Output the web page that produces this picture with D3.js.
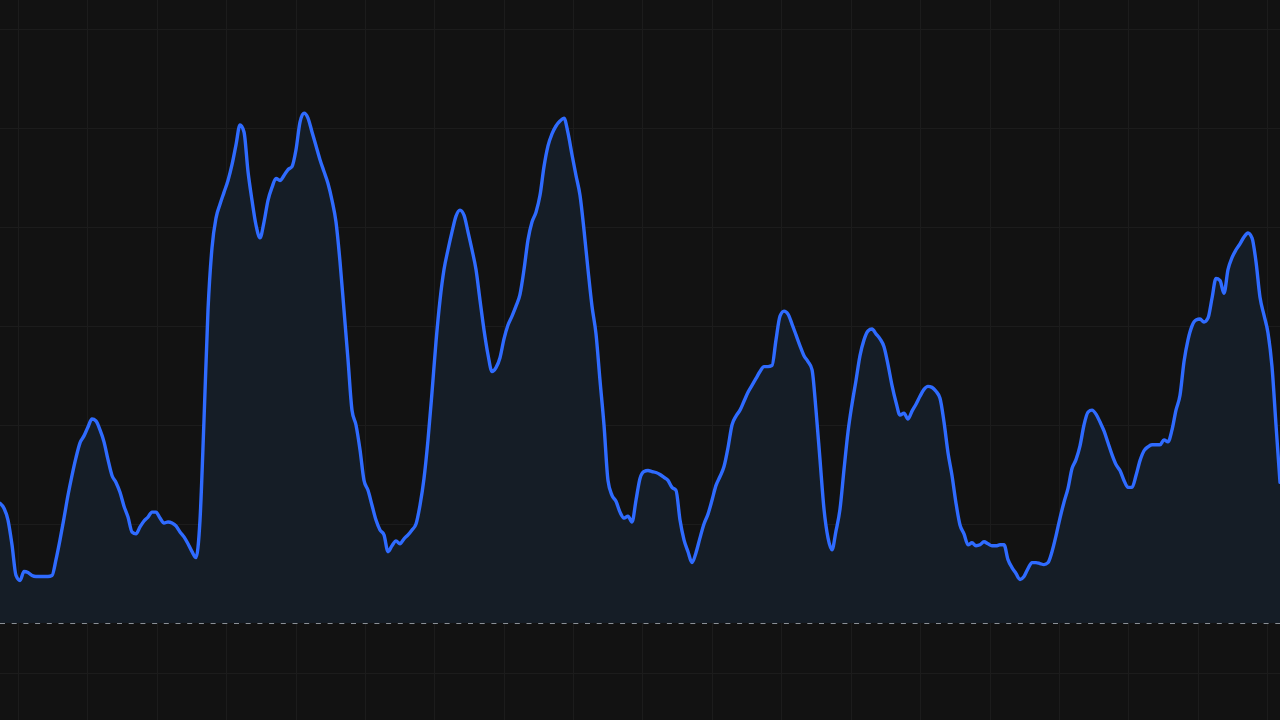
<!DOCTYPE html>
<html>
<head>
<meta charset="utf-8">
<script src="https://cdn.jsdelivr.net/npm/d3@7"></script>
<style>
  html, body { margin: 0; padding: 0; background: #121212; overflow: hidden; }
  svg { display: block; }
</style>
</head>
<body>
<svg id="chart" width="1280" height="720"></svg>
<script>
// Series values (one per sample, evenly spaced)
const values = [
  121,116,104,79,48,43,52,51,48,47,47,47,47,48,64,84,106,129,149,167,
  182,189,198,206,204,195,183,165,149,142,132,118,107,92,90,97,103,107,112,112,
  106,101,102,101,98,92,87,80,72,66,104,205,316,379,409,423,435,447,463,483,
  503,496,456,427,402,389,405,427,440,449,447,452,458,461,478,506,515,510,496,482,
  468,456,444,427,405,365,316,266,215,200,175,144,134,119,104,94,89,72,78,83,
  80,85,89,94,100,119,146,185,233,284,326,357,377,395,411,417,412,395,377,357,
  326,296,271,254,258,268,287,301,310,320,332,357,387,405,415,432,461,482,494,502,
  507,510,495,473,452,432,397,357,320,292,245,200,144,129,123,112,106,108,102,124,
  146,153,154,153,152,150,147,144,137,134,104,84,72,61,71,86,100,110,124,139,
  148,158,177,200,209,215,224,233,240,247,254,259,259,260,286,310,315,312,302,291,
  280,270,264,256,215,165,115,86,74,93,115,155,193,221,245,270,286,295,297,292,
  287,279,261,240,223,210,212,206,214,221,229,236,239,238,234,227,203,172,149,121,
  99,90,79,81,78,79,82,80,78,78,79,79,64,56,50,44,47,55,61,61,
  60,59,61,72,88,106,122,136,156,165,179,200,213,215,211,203,194,182,170,160,
  154,144,137,137,149,164,174,178,180,180,180,185,183,195,215,230,264,286,300,306,
  307,304,308,328,348,346,333,357,369,377,383,390,394,389,365,329,311,293,259,200,
  142
];
// Horizontal grid levels (value units)
const yTicks = [600, 500, 400, 300, 200, 100, -50];
// Vertical grid positions (sample index)
const xTicks = [4.5, 21.8, 39.2, 56.5, 73.9, 91.2, 108.6, 125.9, 143.3, 160.6, 178, 195.3, 212.7, 230, 247.4, 264.7, 282.1, 299.4, 316.8];
// Reference (baseline) level
const baseline = [0];

const W = 1280, H = 720;
const svg = d3.select('#chart');

const x = d3.scaleLinear().domain([0, values.length - 1]).range([0, W]);
const y = d3.scaleLinear().domain([0, 600]).range([623, 29]);

svg.append('rect').attr('width', W).attr('height', H).attr('fill', '#121212');

// grid
const grid = svg.append('g').attr('stroke', '#1c1c1c').attr('stroke-width', 1).attr('shape-rendering', 'crispEdges');
grid.selectAll('line.v').data(xTicks).enter().append('line')
  .attr('x1', d => Math.round(x(d)) + 0.5).attr('x2', d => Math.round(x(d)) + 0.5)
  .attr('y1', 0).attr('y2', H);
grid.selectAll('line.h').data(yTicks).enter().append('line')
  .attr('x1', 0).attr('x2', W)
  .attr('y1', d => Math.round(y(d)) + 0.5).attr('y2', d => Math.round(y(d)) + 0.5);

const curve = d3.curveMonotoneX;

// area
const area = d3.area()
  .x((d, i) => x(i))
  .y0(y(0))
  .y1(d => y(d))
  .curve(curve);
svg.append('path').datum(values)
  .attr('d', area)
  .attr('fill', '#151d26');

// baseline dashed
svg.selectAll('line.base').data(baseline).enter().append('line')
  .attr('x1', 0).attr('x2', W)
  .attr('y1', d => y(d) + 0.5).attr('y2', d => y(d) + 0.5)
  .attr('stroke', '#8b9096').attr('stroke-width', 1)
  .attr('stroke-dasharray', '5,6.7');

// line
const line = d3.line()
  .x((d, i) => x(i))
  .y(d => y(d))
  .curve(curve);
svg.append('path').datum(values)
  .attr('d', line)
  .attr('fill', 'none')
  .attr('stroke', '#2f6bff')
  .attr('stroke-width', 3.4)
  .attr('stroke-linejoin', 'round')
  .attr('stroke-linecap', 'round');
</script>
</body>
</html>
